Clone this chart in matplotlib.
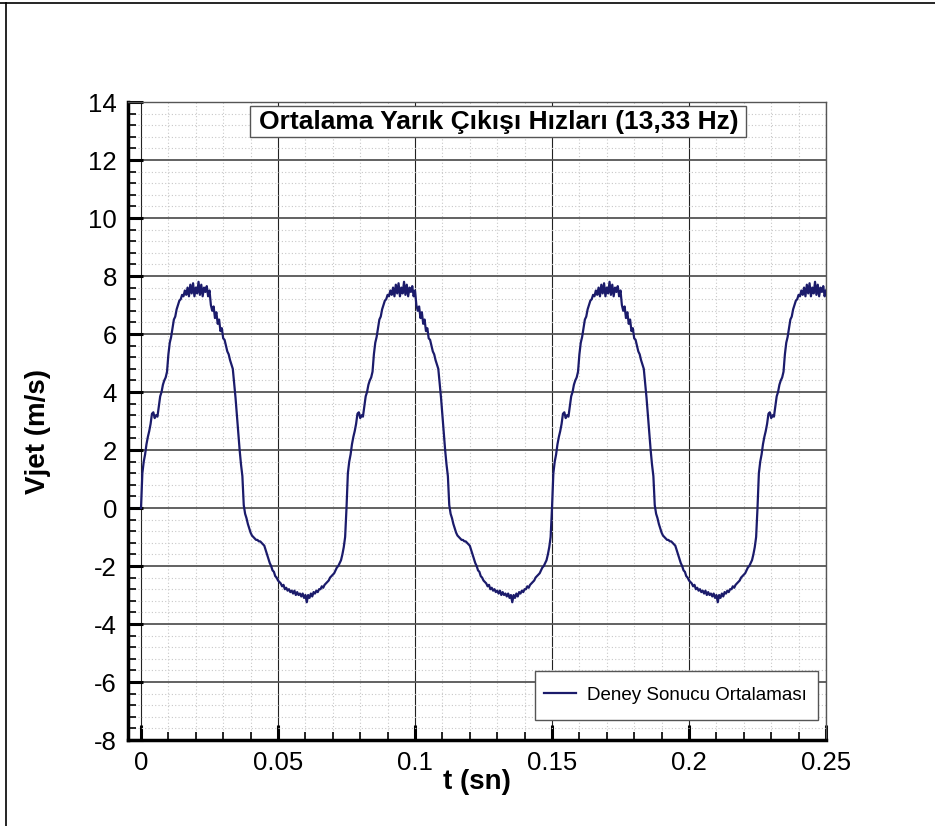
import numpy as np
import matplotlib.pyplot as plt
from matplotlib.lines import Line2D
from matplotlib.patches import Rectangle

plt.rcParams['font.family'] = ['Liberation Sans', 'DejaVu Sans']
plt.rcParams['axes.unicode_minus'] = False

dt = 0.0005
period = 0.075
n_cycles = 4
cycle = [
    0.0, 1.2, 1.6, 1.85, 2.2, 2.45, 2.65, 2.9, 3.25, 3.3,
    3.1, 3.2, 3.15, 3.5, 3.85, 4.0, 4.25, 4.4, 4.5, 4.7,
    5.3, 5.7, 5.9, 6.2, 6.5, 6.6, 6.85, 7.0, 7.15, 7.2,
    7.35, 7.3, 7.5, 7.35, 7.6, 7.3, 7.7, 7.4, 7.75, 7.3,
    7.6, 7.4, 7.8, 7.35, 7.7, 7.3, 7.6, 7.45, 7.65, 7.3,
    7.5, 7.0, 6.8, 6.95, 6.55, 6.75, 6.35, 6.5, 6.1, 6.2,
    5.85, 5.8, 5.6, 5.4, 5.3, 5.1, 4.95, 4.8, 4.3, 3.8,
    3.2, 2.6, 2.0, 1.5, 1.1, 0.1, -0.2, -0.35, -0.55, -0.7,
    -0.85, -0.95, -1.0, -1.05, -1.1, -1.1, -1.15, -1.15, -1.2, -1.25,
    -1.3, -1.45, -1.6, -1.75, -1.9, -2.0, -2.15, -2.2, -2.35, -2.4,
    -2.5, -2.55, -2.6, -2.7, -2.65, -2.8, -2.75, -2.85, -2.8, -2.9,
    -2.85, -2.95, -2.85, -3.0, -2.9, -3.0, -2.95, -3.05, -2.95, -3.1,
    -3.0, -3.25, -3.0, -3.1, -2.95, -3.05, -2.9, -2.95, -2.85, -2.9,
    -2.8, -2.8, -2.7, -2.75, -2.65, -2.6, -2.55, -2.5, -2.4, -2.35,
    -2.3, -2.25, -2.15, -2.05, -2.0, -1.9, -1.8, -1.6, -1.35, -1.0,
]

x_ticks = [0, 0.05, 0.1, 0.15, 0.2, 0.25]
x_labels = ['0', '0.05', '0.1', '0.15', '0.2', '0.25']
y_ticks = [-8, -6, -4, -2, 0, 2, 4, 6, 8, 10, 12, 14]

title = 'Ortalama Yarık Çıkışı Hızları (13,33 Hz)'
legend_label = 'Deney Sonucu Ortalaması'
line_color = '#1b1b6b'

W, H = 935, 826
fig = plt.figure(figsize=(W / 100, H / 100), dpi=100)
ax = fig.add_axes([128 / W, (H - 740) / H, (826 - 128) / W, (740 - 102) / H])

t_cycle = np.arange(len(cycle)) * dt
v_cycle = np.array(cycle)
t_all, v_all = [], []
for k in range(n_cycles):
    tk = t_cycle + k * period
    keep = tk <= 0.25 + 1e-9
    t_all.append(tk[keep])
    v_all.append(v_cycle[keep])
t_all = np.concatenate(t_all)
v_all = np.concatenate(v_all)

ax.plot(t_all, v_all, color=line_color, lw=1.6, label=legend_label, zorder=3)

ax.set_xlim(-13 / 2740, 0.25)
ax.set_ylim(-8, 14)
ax.set_xticks(x_ticks)
ax.set_xticklabels(x_labels)
ax.set_yticks(y_ticks)
ax.set_xticks(np.arange(0, 0.2501, 0.01), minor=True)
ax.set_yticks(np.arange(-8, 14.01, 0.4), minor=True)

ax.xaxis.grid(True, which='major', color='#222222', lw=0.8)
ax.yaxis.grid(True, which='major', color='#555555', lw=1.3)
ax.grid(True, which='minor', color='#c8c8c8', lw=0.8, ls=(0, (1, 2)))
ax.set_axisbelow(True)

ax.tick_params(which='both', direction='in', top=False, right=False)
ax.tick_params(which='major', length=11, width=2.2, labelsize=18.5, pad=8)
ax.tick_params(which='minor', length=6, width=1.2)

for side in ['left', 'bottom']:
    ax.spines[side].set_linewidth(2.5)
    ax.spines[side].set_color('black')
for side in ['top', 'right']:
    ax.spines[side].set_linewidth(1.0)
    ax.spines[side].set_color('#555555')

fig.text(38 / W, 1 - 432 / H, 'Vjet (m/s)', rotation=90, ha='center',
         va='center', fontsize=20, fontweight='bold')
fig.text(477 / W, 1 - 782 / H, 't (sn)', ha='center', va='center',
         fontsize=20, fontweight='bold')

# title box inside the plot
fig.patches.append(Rectangle((250 / W, 1 - 137 / H), 496 / W, 31 / H,
                             transform=fig.transFigure, facecolor='white',
                             edgecolor='#555555', lw=1.0, zorder=5))
fig.text(499 / W, 1 - 122 / H, title, ha='center', va='center',
         fontsize=19, fontweight='bold', zorder=6)

# legend: own frame so its height matches, entries from the library
ax.add_patch(Rectangle((535 / W, 1 - 720 / H), 283 / W, 49 / H,
                       transform=fig.transFigure, facecolor='white',
                       edgecolor='#555555', lw=1.0, zorder=4.5))
leg = ax.legend(loc='lower right', bbox_to_anchor=(818 / W, (H - 715) / H),
                bbox_transform=fig.transFigure, borderaxespad=0,
                fontsize=13.5, frameon=False, handlelength=1.7,
                handletextpad=0.6, borderpad=0.6)
leg.set_zorder(5)

# outer frame lines (top and left)
fig.add_artist(Line2D([0, 1], [1 - 3 / H, 1 - 3 / H],
                      transform=fig.transFigure, color='black', lw=1.2))
fig.add_artist(Line2D([6 / W, 6 / W], [0, 1 - 3 / H],
                      transform=fig.transFigure, color='black', lw=1.2))

fig.savefig('out.png', dpi=100)
